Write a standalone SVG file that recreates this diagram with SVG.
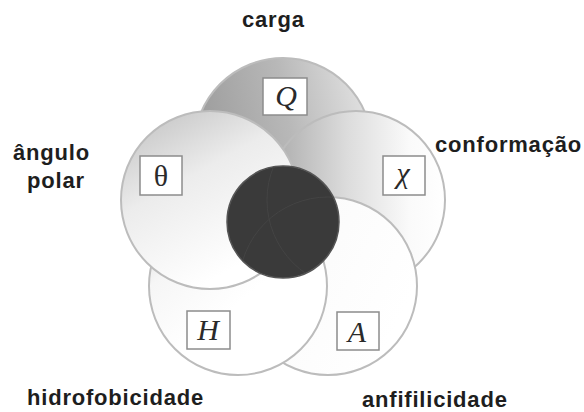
<svg xmlns="http://www.w3.org/2000/svg" width="584" height="412" viewBox="0 0 584 412">
<defs>
<style>
.ring{stroke:#bcbcbc;stroke-width:2}
.box{fill:#ffffff;stroke:#8c8c8c;stroke-width:1.5}
.sym{font-family:"Liberation Serif","Times New Roman",serif;font-size:30px;fill:#2a2a2a;text-anchor:middle}
.it{font-style:italic}
.lbl{font-family:"Liberation Sans",Arial,sans-serif;font-weight:bold;font-size:22px;letter-spacing:0.8px;fill:#1e1e1e}
.ghost{fill:none;stroke:#444444;stroke-width:1}
</style>
<linearGradient id="gQ" x1="0" y1="0.3" x2="1" y2="0.1">
<stop offset="0" stop-color="#9c9c9c"/>
<stop offset="0.5" stop-color="#b8b8b8"/>
<stop offset="1" stop-color="#e6e6e6"/>
</linearGradient>
<linearGradient id="gT" x1="0.1" y1="0" x2="0.6" y2="0.9">
<stop offset="0" stop-color="#c2c2c2"/>
<stop offset="0.45" stop-color="#ececec"/>
<stop offset="1" stop-color="#ffffff"/>
</linearGradient>
<linearGradient id="gC" x1="0" y1="0" x2="1" y2="0">
<stop offset="0" stop-color="#a8a8a8"/>
<stop offset="0.45" stop-color="#dcdcdc"/>
<stop offset="0.8" stop-color="#fafafa"/>
<stop offset="1" stop-color="#ffffff"/>
</linearGradient>
<linearGradient id="gH" x1="0" y1="0" x2="0.5" y2="0.6">
<stop offset="0" stop-color="#cfcfcf"/>
<stop offset="0.5" stop-color="#f6f6f6"/>
<stop offset="1" stop-color="#ffffff"/>
</linearGradient>
<linearGradient id="gA" x1="0" y1="0" x2="1" y2="0.5">
<stop offset="0" stop-color="#e6e6e6"/>
<stop offset="0.4" stop-color="#fbfbfb"/>
<stop offset="1" stop-color="#ffffff"/>
</linearGradient>
<clipPath id="core"><circle cx="283" cy="222" r="56"/></clipPath>
</defs>
<rect width="584" height="412" fill="#ffffff"/>

<g id="node-carga">
<circle class="ring" cx="283" cy="147" r="89" fill="url(#gQ)"/>
<rect class="box" x="263" y="78" width="44" height="37"/>
<text class="sym it" x="286" y="106">Q</text>
<text class="lbl" x="242" y="27">carga</text>
</g>

<g id="node-conformacao">
<circle class="ring" cx="356" cy="200" r="89" fill="url(#gC)"/>
<rect class="box" x="383" y="156" width="42" height="39"/>
<text class="sym it" x="403" y="183">χ</text>
<text class="lbl" x="435" y="152">conformação</text>
</g>

<g id="node-anfifilicidade">
<circle class="ring" cx="328" cy="286" r="89" fill="url(#gA)"/>
<rect class="box" x="337" y="312" width="42" height="38"/>
<text class="sym it" x="357" y="342">A</text>
<text class="lbl" x="362" y="407">anfifilicidade</text>
</g>

<g id="node-hidrofobicidade">
<circle class="ring" cx="238" cy="286" r="89" fill="url(#gH)"/>
<rect class="box" x="187" y="311" width="43" height="38"/>
<text class="sym it" x="208" y="340">H</text>
<text class="lbl" x="27" y="405">hidrofobicidade</text>
</g>

<g id="node-angulo-polar">
<circle class="ring" cx="210" cy="200" r="89" fill="url(#gT)"/>
<rect class="box" x="140" y="156" width="42" height="39"/>
<text class="sym" x="161" y="186">θ</text>
<text class="lbl" x="13" y="160">ângulo</text>
<text class="lbl" x="27" y="188">polar</text>
</g>

<g id="node-centro">
<circle cx="283" cy="222" r="56" fill="#3a3a3a" stroke="#555555" stroke-width="1.5"/>
<g clip-path="url(#core)">
<circle class="ghost" cx="328" cy="286" r="89"/>
<circle class="ghost" cx="356" cy="200" r="89"/>
</g>
</g>
</svg>
